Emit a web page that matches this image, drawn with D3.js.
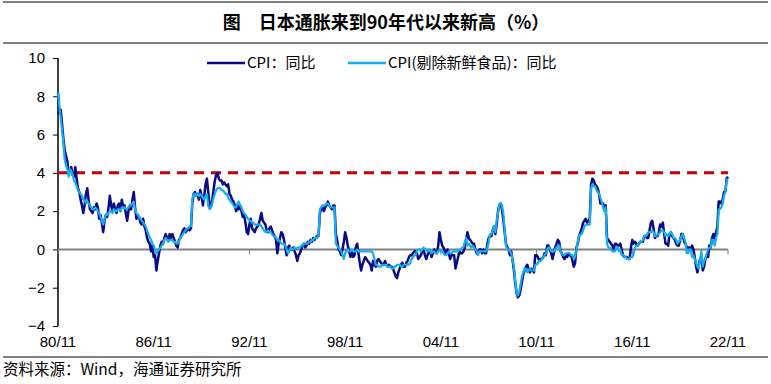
<!DOCTYPE html>
<html>
<head>
<meta charset="utf-8">
<script src="https://cdn.jsdelivr.net/npm/d3@7"></script>
<style>
body { margin: 0; background: #fff; }
text { font-family: "Liberation Sans", Arial, "Noto Sans CJK SC", sans-serif; }
.cjk { font-family: "Noto Sans CJK SC", "Liberation Sans", sans-serif; }
</style>
</head>
<body>
<svg id="chart"></svg>
<script>
// monthly YoY, 1980/11 .. 2022/11
const cpi = [
  8.2, 7.1,
  7.3, 6.6, 5.8, 5.2, 4.9, 4.6, 4.0, 4.1, 4.3, 3.9, 3.8, 4.3,
  3.7, 3.2, 3.0, 2.6, 2.3, 1.9, 2.3, 2.9, 3.2, 2.6, 2.1, 2.0,
  1.9, 2.2, 2.1, 2.4, 2.2, 1.6, 1.8, 1.4, 0.9, 1.5, 1.8, 1.7,
  2.2, 2.8, 2.3, 2.0, 2.4, 2.1, 1.9, 2.3, 2.4, 2.0, 2.6, 2.2,
  2.3, 1.9, 1.5, 2.0, 2.3, 2.1, 2.6, 3.0, 2.2, 1.6, 1.8, 1.7,
  1.4, 1.3, 1.6, 1.2, 1.0, 0.6, 0.4, 0.3, -0.1, 0.2, -0.4, -0.3,
  -1.1, -0.6, -0.2, 0.2, 0.4, 0.3, 0.6, 0.8, 0.6, 0.5, 0.8, 0.6,
  0.8, 0.6, 0.4, 0.2, 0.1, 0.5, 0.6, 0.8, 1.0, 1.1, 0.9, 1.0,
  1.1, 1.0, 1.1, 2.4, 2.9, 3.0, 2.8, 2.9, 2.6, 3.1, 2.8, 2.3,
  2.8, 3.4, 3.7, 3.0, 2.3, 2.2, 2.6, 3.1, 3.6, 3.9, 4.0, 3.7,
  3.6, 3.6, 3.4, 3.5, 3.4, 3.3, 3.4, 2.9, 2.8, 2.6, 2.5, 2.3,
  2.0, 2.3, 2.1, 2.3, 2.0, 1.7, 1.8, 1.4, 0.9, 0.8, 1.3, 1.6,
  1.1, 1.0, 0.9, 1.1, 1.2, 1.3, 1.6, 1.9, 1.5, 1.4, 1.3, 1.0,
  0.9, 1.1, 1.2, 1.0, 0.8, 0.7, 0.5, -0.2, 0.3, 0.6, 0.9, 0.8,
  0.5, 0.1, -0.3, 0.1, 0.2, 0.0, 0.0, 0.1, -0.1, -0.3, -0.6, -0.3,
  -0.2, 0.0, 0.2, 0.3, 0.1, 0.2, 0.4, 0.3, 0.5, 0.4, 0.6, 0.5,
  0.6, 0.7, 0.7, 1.9, 2.1, 2.2, 2.0, 2.2, 2.3, 2.5, 2.3, 2.2,
  2.1, 2.3, 2.3, 0.8, 0.5, 0.0, -0.1, -0.3, 0.0, 0.4, 0.9, 0.6,
  0.2, -0.1, -0.4, -0.1, -0.4, -0.3, 0.1, 0.3, -0.2, -0.7, -1.1, -0.8,
  -0.6, -0.4, -0.5, -0.6, -0.7, -0.8, -1.1, -0.6, -0.8, -0.9, -0.6, -0.5,
  -0.6, -0.7, -0.8, -0.8, -0.6, -0.8, -0.9, -0.8, -0.9, -0.9, -1.0, -1.2,
  -1.4, -1.5, -1.2, -1.0, -0.8, -0.7, -0.9, -0.9, -0.7, -0.6, -0.4, -0.3,
  -0.3, -0.2, -0.1, -0.1, -0.2, -0.5, -0.4, -0.3, -0.1, 0.0, -0.3, -0.5,
  -0.3, -0.1, -0.1, -0.4, -0.2, 0.0, -0.1, -0.2, 0.2, 0.9, 0.5, 0.2,
  0.1, -0.1, -0.2, 0.0, -0.2, -0.5, -0.3, -0.3, -0.3, -1.0, -0.7, -0.4,
  -0.1, -0.2, -0.2, -0.1, 0.1, 0.5, 0.9, 0.6, 0.5, 0.4, 0.3, 0.3,
  0.0, -0.2, -0.1, 0.0, 0.0, -0.2, 0.0, -0.2, -0.2, 0.3, 0.6, 0.7,
  0.7, 1.0, 1.2, 0.8, 1.3, 2.0, 2.3, 2.4, 2.1, 1.5, 0.9, 0.3,
  0.1, 0.0, -0.3, -0.1, -0.6, -1.1, -1.8, -2.3, -2.5, -2.4, -2.1, -1.7,
  -1.3, -1.1, -0.9, -0.8, -1.0, -1.2, -1.0, -1.1, -1.2, -0.3, -0.3, -0.4,
  -0.6, -0.5, -0.5, -0.4, -0.2, -0.3, 0.2, 0.2, 0.0, -0.2, -0.5, -0.2,
  0.1, 0.3, 0.5, 0.4, -0.1, -0.2, -0.4, -0.5, -0.3, -0.4, -0.2, -0.3,
  -0.3, -0.6, -0.9, -0.7, 0.1, 0.3, 0.7, 0.9, 1.1, 1.4, 1.5, 1.6,
  1.4, 1.5, 1.6, 3.4, 3.7, 3.6, 3.4, 3.3, 3.2, 2.9, 2.4, 2.4,
  2.4, 2.2, 2.3, 0.6, 0.5, 0.4, 0.3, 0.2, 0.0, 0.3, 0.3, 0.2,
  0.2, 0.3, 0.0, -0.3, -0.4, -0.4, -0.4, -0.5, -0.5, 0.1, 0.5, 0.3,
  0.4, 0.3, 0.2, 0.3, 0.4, 0.4, 0.4, 0.7, 0.7, 0.6, 0.6, 1.0,
  1.4, 1.5, 1.1, 0.6, 0.7, 0.7, 0.9, 1.3, 1.2, 1.4, 0.8, 0.3,
  0.3, 0.2, 0.8, 0.9, 0.7, 0.6, 0.5, 0.3, 0.2, 0.2, 0.5, 0.8,
  0.8, 0.4, 0.3, 0.1, 0.1, 0.1, 0.0, 0.2, 0.0, -0.4, -0.9, -1.2,
  -0.8, -0.5, -0.4, -1.1, -0.9, -0.5, -0.3, -0.4, 0.2, 0.1, 0.6, 0.8,
  0.5, 0.9, 1.2, 2.5, 2.5, 2.4, 2.6, 3.0, 3.0, 3.7, 3.8
]

const coreCpi = [
  8.2, 7.5,
  6.9, 6.3, 5.6, 4.7, 4.4, 4.2, 3.8, 4.2, 4.1, 3.9, 3.6, 3.5,
  3.3, 3.1, 3.0, 2.9, 2.8, 2.6, 2.6, 2.4, 2.5, 2.4, 2.3, 2.2,
  2.1, 2.1, 2.2, 2.1, 2.0, 1.9, 1.7, 1.5, 1.3, 1.6, 1.8, 1.8,
  1.9, 2.0, 2.0, 1.9, 2.1, 2.0, 2.0, 2.1, 2.1, 2.0, 2.2, 2.2,
  2.2, 2.1, 2.1, 2.2, 2.3, 2.3, 2.4, 2.5, 2.1, 1.9, 1.8, 1.7,
  1.6, 1.5, 1.4, 1.3, 1.2, 1.0, 0.8, 0.6, 0.5, 0.3, 0.2, 0.0,
  -0.2, -0.1, 0.0, 0.1, 0.2, 0.3, 0.5, 0.6, 0.5, 0.4, 0.5, 0.5,
  0.5, 0.4, 0.4, 0.3, 0.3, 0.4, 0.6, 0.7, 0.8, 0.9, 1.0, 1.1,
  1.1, 1.2, 1.2, 2.6, 2.9, 2.9, 2.8, 2.9, 2.8, 2.9, 2.8, 2.7,
  2.6, 2.8, 2.9, 2.3, 2.1, 2.2, 2.4, 2.7, 2.9, 3.1, 3.2, 3.2,
  3.2, 3.1, 3.1, 3.0, 2.9, 2.9, 2.7, 2.6, 2.5, 2.4, 2.3, 2.2,
  2.2, 2.4, 2.5, 2.3, 2.2, 2.0, 1.9, 1.8, 1.7, 1.6, 1.5, 1.5,
  1.4, 1.4, 1.3, 1.3, 1.3, 1.3, 1.3, 1.2, 1.1, 1.0, 0.9, 0.9,
  1.0, 0.9, 0.9, 0.8, 0.7, 0.7, 0.6, 0.5, 0.5, 0.4, 0.3, 0.3,
  0.3, 0.2, 0.0, -0.2, -0.1, 0.1, 0.0, 0.0, 0.1, 0.0, 0.1, 0.1,
  0.1, 0.2, 0.2, 0.3, 0.3, 0.3, 0.3, 0.4, 0.4, 0.5, 0.5, 0.6,
  0.6, 0.6, 0.7, 2.1, 2.2, 2.3, 2.3, 2.3, 2.4, 2.4, 2.3, 2.2,
  2.2, 2.2, 2.2, 0.3, 0.2, 0.1, 0.0, -0.1, -0.3, -0.5, -0.2, -0.1,
  0.0, -0.1, -0.1, 0.0, -0.1, -0.1, -0.1, 0.0, -0.1, -0.1, -0.1, -0.1,
  -0.1, -0.1, -0.1, -0.1, -0.1, -0.1, -0.1, -0.2, -0.5, -0.8, -0.8, -0.9,
  -0.9, -0.9, -0.8, -0.8, -0.8, -0.8, -0.9, -0.9, -0.9, -1.0, -1.0, -0.9,
  -0.9, -0.8, -0.8, -0.8, -0.9, -0.9, -0.8, -0.8, -0.8, -0.8, -0.8, -0.7,
  -0.5, -0.4, -0.3, -0.3, -0.1, 0.0, 0.0, -0.1, 0.0, 0.1, 0.0, 0.0,
  -0.1, 0.0, -0.1, -0.2, -0.1, -0.1, -0.2, -0.2, -0.1, 0.0, -0.1, -0.1,
  -0.2, -0.3, -0.3, -0.2, -0.1, -0.2, -0.2, -0.1, -0.1, -0.1, -0.1, -0.1,
  0.0, 0.0, 0.1, 0.1, 0.4, 0.6, 0.2, 0.3, 0.2, 0.1, 0.2, 0.1,
  0.0, -0.1, -0.3, -0.1, -0.1, -0.1, -0.1, -0.1, -0.1, 0.1, 0.4, 0.8,
  0.8, 1.0, 1.2, 0.9, 1.5, 1.9, 2.4, 2.4, 2.3, 1.9, 1.0, 0.2,
  0.0, 0.0, -0.1, -0.2, -0.6, -0.9, -1.7, -2.3, -2.4, -2.2, -1.8, -1.4,
  -1.2, -1.0, -1.0, -1.2, -1.1, -1.0, -1.1, -1.1, -1.1, -0.8, -0.8, -0.7,
  -0.6, -0.6, -0.5, -0.4, -0.3, -0.2, 0.0, 0.1, 0.1, -0.1, -0.1, -0.1,
  0.0, 0.1, 0.2, 0.2, -0.1, -0.2, -0.3, -0.3, -0.2, -0.2, -0.2, -0.2,
  -0.3, -0.3, -0.5, -0.4, 0.0, 0.4, 0.7, 0.8, 0.8, 1.0, 1.2, 1.3,
  1.3, 1.3, 1.3, 3.2, 3.4, 3.3, 3.3, 3.1, 3.0, 2.9, 2.7, 2.5,
  2.2, 2.0, 2.2, 0.3, 0.1, 0.1, 0.0, -0.1, -0.1, -0.1, 0.1, 0.1,
  -0.1, 0.0, -0.3, -0.3, -0.4, -0.4, -0.5, -0.5, -0.5, -0.4, -0.4, -0.2,
  0.1, 0.2, 0.2, 0.3, 0.4, 0.4, 0.5, 0.7, 0.7, 0.8, 0.9, 0.9,
  0.9, 1.0, 0.9, 0.7, 0.7, 0.8, 0.8, 0.9, 1.0, 1.0, 0.9, 0.7,
  0.8, 0.7, 0.8, 0.9, 0.8, 0.6, 0.6, 0.5, 0.3, 0.4, 0.5, 0.7,
  0.8, 0.6, 0.4, -0.2, -0.2, 0.0, 0.0, -0.4, -0.3, -0.5, -0.7, -0.9,
  -1.0, -0.5, -0.1, -0.9, -0.6, -0.5, -0.2, 0.0, 0.1, 0.1, 0.5, 0.5,
  0.2, 0.6, 0.8, 2.1, 2.1, 2.2, 2.4, 2.8, 3.0, 3.6, 3.7
]

const xTickLabels = ["80/11", "86/11", "92/11", "98/11", "04/11", "10/11", "16/11", "22/11"]
const yTicks = [-4, -2, 0, 2, 4, 6, 8, 10]
const seriesNames = ["CPI：同比", "CPI(剔除新鲜食品)：同比"]
const seriesColors = ["#0a0a84", "#13aef0"]
const threshold = 4

const width = 771, height = 384

const svg = d3.select("#chart")
  .attr("width", width)
  .attr("height", height)

svg.append("rect").attr("width", width).attr("height", height).attr("fill", "#fff")

// title block
svg.append("line").attr("x1", 3).attr("x2", 768).attr("y1", 2).attr("y2", 2)
  .attr("stroke", "#000").attr("stroke-width", 1)
svg.append("line").attr("x1", 3).attr("x2", 768).attr("y1", 43).attr("y2", 43)
  .attr("stroke", "#000").attr("stroke-width", 1)
svg.append("text")
  .attr("class", "cjk")
  .attr("x", 386).attr("y", 29)
  .attr("text-anchor", "middle")
  .attr("font-size", 18)
  .attr("font-weight", "bold")
  .text("图\u3000日本通胀来到90年代以来新高（%）")

// footer
svg.append("line").attr("x1", 3).attr("x2", 768).attr("y1", 357).attr("y2", 357)
  .attr("stroke", "#000").attr("stroke-width", 1)
svg.append("text")
  .attr("class", "cjk")
  .attr("x", 3).attr("y", 375)
  .attr("font-size", 15.5)
  .text("资料来源：Wind，海通证券研究所")

const x = d3.scaleLinear().domain([0, cpi.length - 1]).range([58, 728])
const y = d3.scaleLinear().domain([-4, 10]).range([326, 58])

// y axis
const yAxis = d3.axisLeft(y).tickValues(yTicks).tickSize(5).tickPadding(8)
const yg = svg.append("g").attr("transform", "translate(58,0)").call(yAxis)
yg.select(".domain").attr("stroke", "#000").attr("stroke-width", 1.5)
  .attr("d", "M0,58V326")
yg.selectAll(".tick line").attr("stroke", "#000").attr("stroke-width", 1)
yg.selectAll(".tick text").attr("font-size", 15).attr("fill", "#000")
  .style("font-family", "'Liberation Sans', Arial, sans-serif")

// zero line with month ticks
const xTickIdx = xTickLabels.map((d, i) => i * 72)
svg.append("line")
  .attr("x1", x(0)).attr("x2", x(cpi.length - 1))
  .attr("y1", y(0)).attr("y2", y(0))
  .attr("stroke", "#808080").attr("stroke-width", 2)
svg.selectAll(".xtick").data(xTickIdx).join("line")
  .attr("class", "xtick")
  .attr("x1", d => x(d)).attr("x2", d => x(d))
  .attr("y1", y(0)).attr("y2", y(0) + 5)
  .attr("stroke", "#808080").attr("stroke-width", 1)
svg.selectAll(".xlab").data(xTickLabels).join("text")
  .attr("class", "xlab")
  .attr("x", (d, i) => x(xTickIdx[i]))
  .attr("y", 347)
  .attr("text-anchor", "middle")
  .attr("font-size", 15)
  .text(d => d)

// 4% reference
svg.append("line")
  .attr("x1", x(0)).attr("x2", x(cpi.length - 1))
  .attr("y1", y(threshold)).attr("y2", y(threshold))
  .attr("stroke", "#c00000").attr("stroke-width", 3)
  .attr("stroke-dasharray", "10,7")

const line = d3.line().x((d, i) => x(i)).y(d => y(d))

svg.append("path").datum(cpi)
  .attr("d", line)
  .attr("fill", "none")
  .attr("stroke", seriesColors[0])
  .attr("stroke-width", 2.5)
  .attr("stroke-linejoin", "round")

svg.append("path").datum(coreCpi)
  .attr("d", line)
  .attr("fill", "none")
  .attr("stroke", seriesColors[1])
  .attr("stroke-width", 2.2)
  .attr("stroke-linejoin", "round")

// legend
const legendX = [207, 348]
const lg = svg.selectAll(".legend").data(seriesNames).join("g")
  .attr("class", "legend")
  .attr("transform", (d, i) => `translate(${legendX[i]},63)`)
lg.append("line").attr("x1", 0).attr("x2", 38)
  .attr("stroke", (d, i) => seriesColors[i]).attr("stroke-width", 2.5)
lg.append("text")
  .attr("class", "cjk")
  .attr("x", 40).attr("y", 5)
  .attr("font-size", 15)
  .text(d => d)
</script>
</body>
</html>
